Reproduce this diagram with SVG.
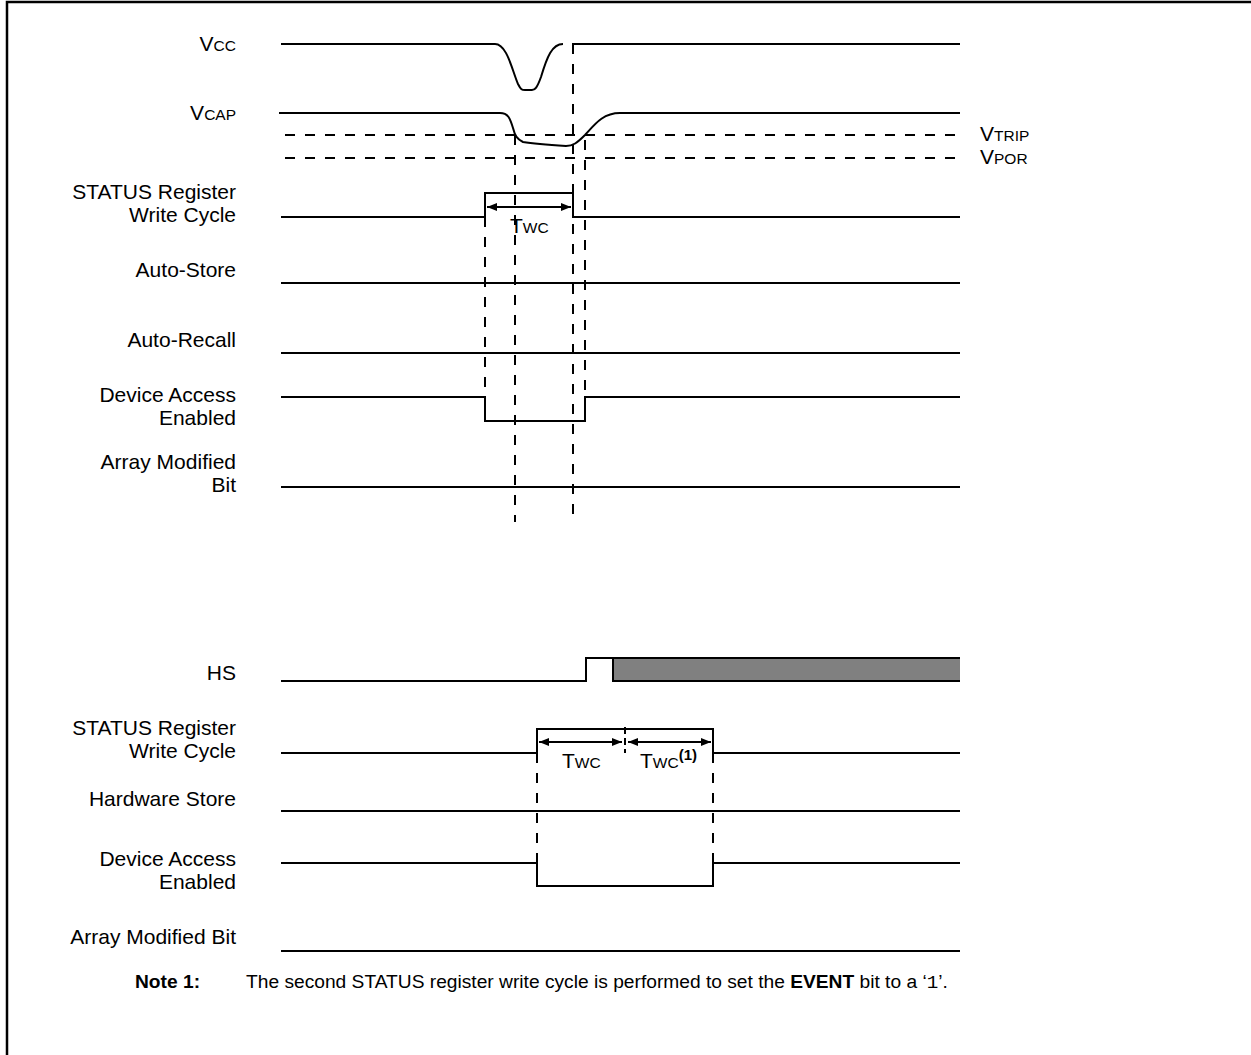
<svg xmlns="http://www.w3.org/2000/svg" width="1251" height="1055" viewBox="0 0 1251 1055">
<style>
.lbl{font-family:"Liberation Sans",Arial,sans-serif;font-size:21px;fill:#000}
.sm{font-size:15.5px}
.sig{fill:none;stroke:#000;stroke-width:2}
.dash{fill:none;stroke:#000;stroke-width:2;stroke-dasharray:10 10}
.note{font-family:"Liberation Sans",Arial,sans-serif;font-size:19.2px;fill:#000}
</style>
<defs>
<marker id="ah" markerWidth="10" markerHeight="8" refX="10" refY="4" orient="auto-start-reverse" markerUnits="userSpaceOnUse">
<path d="M0,0 L10,4 L0,8 Z" fill="#000"/>
</marker>
</defs>
<rect x="0" y="0" width="1251" height="1055" fill="#fff"/>
<path id="frame" d="M7,1055 V2 H1251" fill="none" stroke="#000" stroke-width="2.5"/>

<g id="labels">
<text class="lbl" x="236" y="51" text-anchor="end">V<tspan class="sm">CC</tspan></text>
<text class="lbl" x="236" y="120" text-anchor="end">V<tspan class="sm">CAP</tspan></text>
<text class="lbl" x="236" y="199" text-anchor="end">STATUS Register</text>
<text class="lbl" x="236" y="222" text-anchor="end">Write Cycle</text>
<text class="lbl" x="236" y="277" text-anchor="end">Auto-Store</text>
<text class="lbl" x="236" y="347" text-anchor="end">Auto-Recall</text>
<text class="lbl" x="236" y="402" text-anchor="end">Device Access</text>
<text class="lbl" x="236" y="425" text-anchor="end">Enabled</text>
<text class="lbl" x="236" y="469" text-anchor="end">Array Modified</text>
<text class="lbl" x="236" y="492" text-anchor="end">Bit</text>
<text class="lbl" x="980" y="141">V<tspan class="sm">TRIP</tspan></text>
<text class="lbl" x="980" y="164">V<tspan class="sm">POR</tspan></text>
<text class="lbl" x="236" y="680" text-anchor="end">HS</text>
<text class="lbl" x="236" y="735" text-anchor="end">STATUS Register</text>
<text class="lbl" x="236" y="758" text-anchor="end">Write Cycle</text>
<text class="lbl" x="236" y="806" text-anchor="end">Hardware Store</text>
<text class="lbl" x="236" y="866" text-anchor="end">Device Access</text>
<text class="lbl" x="236" y="889" text-anchor="end">Enabled</text>
<text class="lbl" x="236" y="944" text-anchor="end">Array Modified Bit</text>
</g>

<g id="timing-labels">
<text class="lbl" x="510" y="233">T<tspan class="sm">WC</tspan></text>
<text class="lbl" x="562" y="768">T<tspan class="sm">WC</tspan></text>
<text class="lbl" x="640" y="768">T<tspan class="sm">WC</tspan><tspan font-size="15" font-weight="bold" dy="-8">(1)</tspan></text>
</g>

<g id="signals">
<path id="vcc" class="sig" d="M281,44 H495 C507,44 512,70 518,84 C521,90 522,90 525,90 L532,90 C535,90 537,88 541,77 C547,57 552,44 563,44 M572,44 H960"/>
<path id="vcap" class="sig" d="M279,113 H500 C508,113 510,118 513,128 C515,136 517,139 523,142 C535,144 550,145 566,146 C573,146 577,143 585,135 C595,124 603,113 620,113 H960"/>
<path id="wc1" class="sig" d="M281,217 H485 V193 H573 V217 H960"/>
<path id="autostore" class="sig" d="M281,283 H960"/>
<path id="autorecall" class="sig" d="M281,353 H960"/>
<path id="dae1" class="sig" d="M281,397 H485 V421 H585 V397 H960"/>
<path id="amb1" class="sig" d="M281,487 H960"/>
<rect id="hs-gray" x="613" y="658" width="347" height="23" fill="#808080"/>
<path id="hs" class="sig" d="M281,681 H586 V658 H960 M613,658 V681 H960"/>
<path id="wc2" class="sig" d="M281,753 H537 V729 H713 V753 H960"/>
<path id="hwstore" class="sig" d="M281,811 H960"/>
<path id="dae2" class="sig" d="M281,863 H537 V886 H713 V863 H960"/>
<path id="amb2" class="sig" d="M281,951 H960"/>
</g>

<g id="connectors">
<path class="dash" d="M285,135 H960 M285,158 H960"/>
<path class="dash" d="M573,44 V522"/>
<path class="dash" d="M515,135 V522"/>
<path class="dash" d="M585,140 V397"/>
<path class="dash" d="M485,217 V397"/>
<path class="dash" d="M537,753 V863 M713,753 V863"/>
<path class="sig" stroke-dasharray="7 4" d="M625,727 V753"/>
<line class="sig" x1="487" y1="207" x2="571" y2="207" marker-start="url(#ah)" marker-end="url(#ah)"/>
<line class="sig" x1="539" y1="742" x2="622" y2="742" marker-start="url(#ah)" marker-end="url(#ah)"/>
<line class="sig" x1="628" y1="742" x2="711" y2="742" marker-start="url(#ah)" marker-end="url(#ah)"/>
</g>

<g id="note">
<text class="note" x="135" y="988"><tspan font-weight="bold">Note</tspan><tspan font-weight="bold" x="183">1:</tspan><tspan x="246">The second STATUS register write cycle is performed to set the </tspan><tspan font-weight="bold">EVENT</tspan><tspan> bit to a ‘</tspan><tspan font-family="'Liberation Mono',monospace">1</tspan><tspan>’.</tspan></text>
</g>
</svg>
